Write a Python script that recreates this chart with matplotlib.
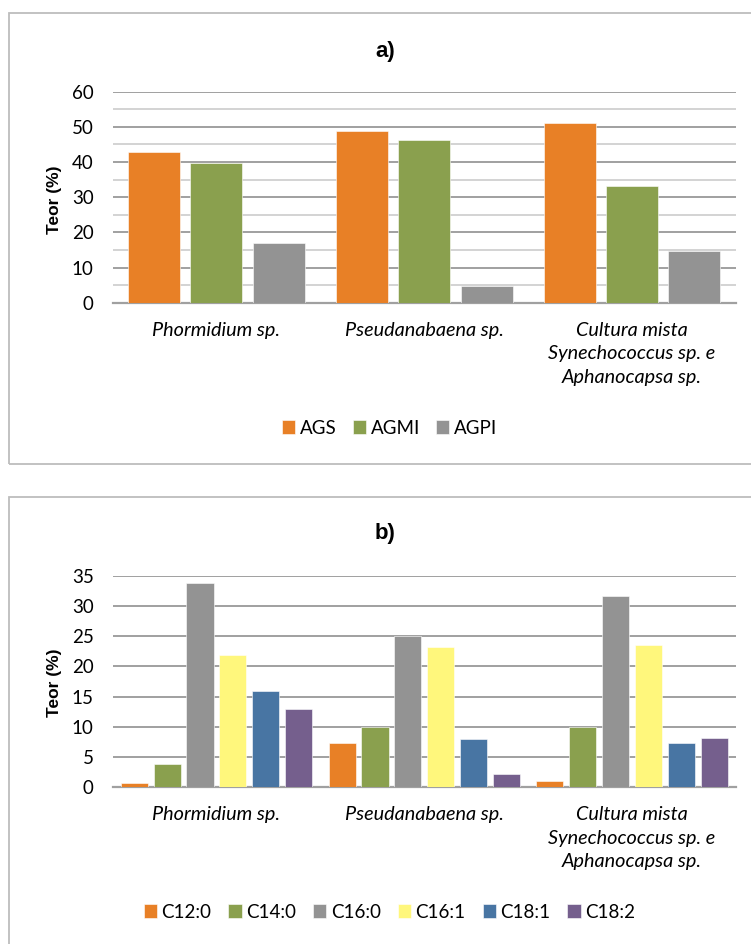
import matplotlib
matplotlib.use("Agg")
import matplotlib.pyplot as plt
from matplotlib.patches import Rectangle
import numpy as np

# --- data -------------------------------------------------------------
categories = ["Phormidium sp.", "Pseudanabaena sp.",
              "Cultura mista\nSynechococcus sp. e\nAphanocapsa sp."]

classes = ["AGS", "AGMI", "AGPI"]
ags = [42.8, 48.8, 51.2]
agmi = [39.8, 46.4, 33.3]
agpi = [17.1, 4.8, 14.7]

acids = ["C12:0", "C14:0", "C16:0", "C16:1", "C18:1", "C18:2"]
c12_0 = [0.6, 7.3, 1.0]
c14_0 = [3.8, 10.0, 10.0]
c16_0 = [33.8, 25.0, 31.6]
c16_1 = [21.9, 23.3, 23.6]
c18_1 = [16.0, 8.0, 7.3]
c18_2 = [13.0, 2.2, 8.2]

a_ticks = [0, 10, 20, 30, 40, 50, 60]
b_ticks = [0, 5, 10, 15, 20, 25, 30, 35]

# --- style ------------------------------------------------------------
ORANGE, GREEN, GRAY = "#E88026", "#8AA04E", "#939393"
YELLOW, BLUE, PURPLE = "#FFF77C", "#4875A3", "#755F8D"
GRID_MAJOR = "#A0A0A0"
GRID_MINOR = "#D3D3D3"
BOX = "#BDBDBD"

W, H = 751, 944
fig = plt.figure(figsize=(W / 100, H / 100), dpi=100)
fig.patch.set_facecolor("white")

TICK_FONT = dict(family=["Lato", "DejaVu Sans"], size=13.5)
CAT_FONT = dict(family=["Lato", "DejaVu Sans"], size=14.3, style="italic")
LEG_FONT = dict(family=["Lato", "DejaVu Sans"], size=13.5)
BOLD_FONT = dict(family=["Liberation Sans", "DejaVu Sans"], weight="bold")


def px_rect(left, top, right, bottom):
    """Axes rectangle in figure fractions from pixel edges (top-left origin)."""
    return [left / W, 1 - bottom / H, (right - left) / W, (bottom - top) / H]


def panel_box(top, bottom):
    fig.add_artist(Rectangle((8.6 / W, 1 - bottom / H), (W + 20) / W,
                             (bottom - top) / H, transform=fig.transFigure,
                             fill=False, edgecolor=BOX, linewidth=1.3,
                             clip_on=False))


def draw_panel(rect, series, names, colors, pitch, width, ticks, minor,
               title, title_y, label_y, legend_y, colspacing):
    ax = fig.add_axes(rect)
    x = np.arange(len(categories))
    n = len(series)
    handles = []
    for j, (vals, col) in enumerate(zip(series, colors)):
        off = (j - (n - 1) / 2) * pitch
        h = ax.bar(x + off, vals, width, color=col, edgecolor="white",
                   linewidth=0.4, zorder=3, label=names[j])
        handles.append(h)
    ax.set_xlim(-0.5, len(categories) - 0.5)
    ax.set_ylim(ticks[0], ticks[-1])
    ax.set_yticks(ticks)
    ax.set_yticklabels([str(t) for t in ticks], **TICK_FONT)
    if minor:
        mids = [(a + b) / 2 for a, b in zip(ticks[:-1], ticks[1:])]
        ax.set_yticks(mids, minor=True)
        ax.grid(axis="y", which="minor", color=GRID_MINOR, linewidth=1.4,
                zorder=0)
    ax.grid(axis="y", which="major", color=GRID_MAJOR, linewidth=1.4,
            zorder=0)
    ax.set_axisbelow(True)
    ax.set_xticks(x)
    ax.set_xticklabels(categories, linespacing=1.45, **CAT_FONT)
    for lab in ax.get_xticklabels():
        lab.set_verticalalignment("top")
    ax.tick_params(axis="y", length=0, pad=13.5, which="both")
    ax.tick_params(axis="x", length=0, pad=14)
    for side in ("left", "right", "top"):
        ax.spines[side].set_visible(False)
    ax.spines["bottom"].set_color(GRID_MAJOR)
    ax.spines["bottom"].set_linewidth(1.6)
    ax.set_facecolor("none")

    fig.text(385.5 / W, 1 - title_y / H, title, ha="center", va="center",
             size=16, **BOLD_FONT)
    fig.text(55 / W, 1 - label_y / H, "Teor (%)", rotation=90, ha="center",
             va="center", size=12.5, **BOLD_FONT)
    fig.legend(handles=handles, labels=names, loc="center",
               bbox_to_anchor=(389.5 / W, 1 - legend_y / H), ncol=n,
               frameon=False, prop=dict(family=LEG_FONT["family"],
                                         size=LEG_FONT["size"]),
               handlelength=0.7, handleheight=0.7, handletextpad=0.25,
               columnspacing=colspacing, borderpad=0, borderaxespad=0)
    return ax


# panel a) – fatty acid classes
panel_box(12.7, 464)
draw_panel(px_rect(112.5, 91.7, 736, 302.7), [ags, agmi, agpi], classes,
           [ORANGE, GREEN, GRAY], pitch=0.30, width=0.25, ticks=a_ticks,
           minor=True, title="a)", title_y=52, label_y=200, legend_y=428,
           colspacing=0.85)

# panel b) – individual fatty acids
panel_box(497, H + 20)
draw_panel(px_rect(112.5, 576, 736, 787),
           [c12_0, c14_0, c16_0, c16_1, c18_1, c18_2], acids,
           [ORANGE, GREEN, GRAY, YELLOW, BLUE, PURPLE], pitch=0.158,
           width=0.13, ticks=b_ticks, minor=False, title="b)", title_y=533,
           label_y=683, legend_y=912, colspacing=0.9)

fig.savefig("out.png", dpi=100, facecolor="white")
